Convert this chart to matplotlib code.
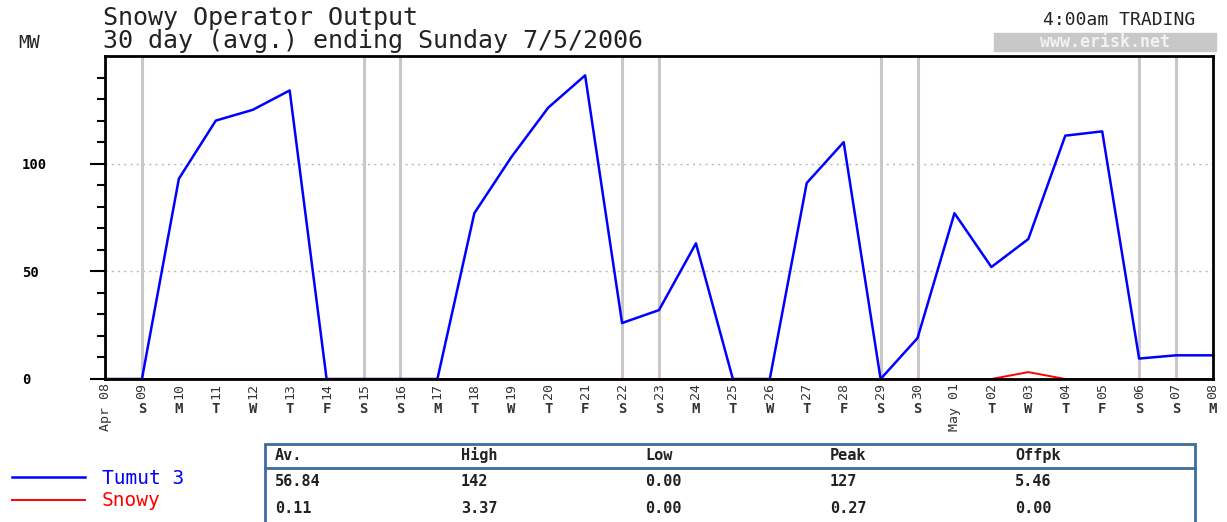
import numpy as np
import pandas as pd
import matplotlib
matplotlib.use("Agg")
import matplotlib.pyplot as plt
from matplotlib.patches import Rectangle
from matplotlib.lines import Line2D

# daily averages, MW
dates = pd.date_range("2006-04-08", "2006-05-08", freq="D")
tumut3 = [0, 0, 93, 120, 125, 134, 0, 0, 0, 0, 77, 103, 126, 141, 26, 32,
          63, 0, 0, 91, 110, 0, 19, 77, 52, 65, 113, 115, 9.5, 11, 11]
snowy = [0, 0, 0, 0, 0, 0, 0, 0, 0, 0, 0, 0, 0, 0, 0, 0,
         0, 0, 0, 0, 0, 0, 0, 0, 0, 3.2, 0, 0, 0, 0, 0]

series_names = ["Tumut 3", "Snowy"]
series_colors = ["#0000ff", "#ff0000"]

stat_headers = ["Av.", "High", "Low", "Peak", "Offpk"]
tumut_stats = ["56.84", "142", "0.00", "127", "5.46"]
snowy_stats = ["0.11", "3.37", "0.00", "0.27", "0.00"]

title1 = "Snowy Operator Output"
title2 = "30 day (avg.) ending Sunday 7/5/2006"
trading = "4:00am TRADING"
site = "www.erisk.net"

MONO = "DejaVu Sans Mono"
W, H = 1227, 522


def fx(x):
    return x / W


def fy(y):
    return 1 - y / H


fig = plt.figure(figsize=(W / 100, H / 100), dpi=100)
fig.patch.set_facecolor("white")
ax = fig.add_axes([fx(105), fy(379), (1213 - 105) / W, (379 - 56) / H])

# weekend lines
for d in dates:
    if d.weekday() >= 5:
        ax.axvline(d, color="#c8c8c8", lw=2.2, zorder=1)

for yv in [50, 100]:
    ax.axhline(yv, color="#b8b8b8", lw=1.0, ls=(0, (1.5, 3)), zorder=0.5)

l1, = ax.plot(dates, tumut3, color=series_colors[0], lw=1.8, zorder=2)
l2, = ax.plot(dates, snowy, color=series_colors[1], lw=1.4, zorder=2)

ax.set_xlim(dates[0], dates[-1])
ax.set_ylim(0, 150)

for s in ax.spines.values():
    s.set_linewidth(2.0)
    s.set_color("black")
    s.set_zorder(3)

# y axis
ax.set_yticks([0, 50, 100])
ax.set_yticks(np.arange(10, 150, 10), minor=True)
ax.tick_params(axis="y", which="major", length=11, width=1.5, pad=49,
               labelsize=10)
ax.tick_params(axis="y", which="minor", length=6, width=1.5)
for t in ax.get_yticklabels():
    t.set_horizontalalignment("left")
    t.set_fontfamily(MONO)
    t.set_fontweight("bold")

# x axis: day numbers rotated, month on first day
xlabels = []
for i, d in enumerate(dates):
    if i == 0 or d.day == 1:
        xlabels.append(d.strftime("%b %d"))
    else:
        xlabels.append(d.strftime("%d"))
ax.set_xticks(dates)
ax.set_xticklabels(xlabels, rotation=90, fontfamily=MONO, fontsize=9.5,
                   color="#333333")
ax.tick_params(axis="x", length=0, pad=3)

letters = "MTWTFSS"
for i, d in enumerate(dates):
    if i == 0 or d.day == 1:
        continue
    ax.annotate(letters[d.weekday()], xy=(d, 0),
                xycoords=("data", "axes fraction"),
                xytext=(0, -30), textcoords="offset pixels",
                ha="center", va="center", fontfamily=MONO,
                fontweight="bold", fontsize=10, color="#333333")

# titles
fig.text(fx(103), fy(25), title1, fontfamily=MONO, fontsize=18,
         va="baseline", ha="left", color="#222222")
fig.text(fx(103), fy(48), title2, fontfamily=MONO, fontsize=18,
         va="baseline", ha="left", color="#222222")
fig.text(fx(18), fy(48), "MW", fontfamily=MONO, fontsize=13,
         va="baseline", ha="left", color="#222222")
fig.text(fx(1195), fy(25), trading, fontfamily=MONO, fontsize=13,
         va="baseline", ha="right", color="#222222")
fig.add_artist(Rectangle((fx(994), fy(51)), (1216 - 994) / W, 18 / H,
                         transform=fig.transFigure, color="#c8c8c8",
                         zorder=1))
fig.text(fx(1105), fy(42), site, fontfamily=MONO, fontsize=12,
         fontweight="bold", va="center", ha="center", color="#f2f2f2",
         zorder=2)

# legend
fig.legend([l1, l2], series_names, loc="upper left",
           bbox_to_anchor=(fx(12), fy(469)), frameon=False,
           borderpad=0, borderaxespad=0, handlelength=3.75,
           handletextpad=0.87, labelspacing=0.17, labelcolor="linecolor",
           prop={"family": MONO, "size": 14})

# stats table
tab_color = "#3c6e9b"
fig.add_artist(Rectangle((fx(265), fy(540)), (1195 - 265) / W, (540 - 444) / H,
                         transform=fig.transFigure, fill=False,
                         edgecolor=tab_color, lw=2, zorder=1))
fig.add_artist(Line2D([fx(265), fx(1195)], [fy(468), fy(468)],
                      transform=fig.transFigure, color=tab_color, lw=2))
col_x = [275, 461, 645, 830, 1015]
rows = [(stat_headers, 460), (tumut_stats, 486), (snowy_stats, 513)]
for vals, yy in rows:
    for xx, v in zip(col_x, vals):
        fig.text(fx(xx), fy(yy), v, fontfamily=MONO, fontsize=11,
                 fontweight="bold", va="baseline", ha="left",
                 color="#222222")

fig.savefig("out.png", dpi=100, facecolor="white")
